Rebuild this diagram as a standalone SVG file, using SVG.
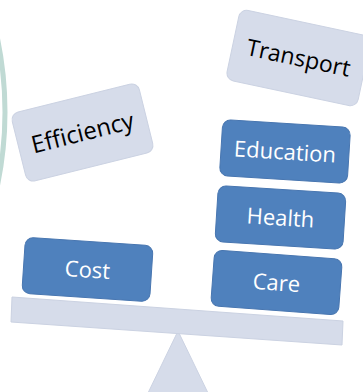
<svg xmlns="http://www.w3.org/2000/svg" width="363" height="392" viewBox="0 0 363 392">
<style>
.blue{fill:#4f81bd;stroke:#4876b0;stroke-width:1}
.light{fill:#d6dcea;stroke:#cbd2e2;stroke-width:1}
.tw{font-family:"Open Sans","Liberation Sans",sans-serif;font-size:22px;fill:#ffffff;text-anchor:middle}
.tb{font-family:"Open Sans","Liberation Sans",sans-serif;font-size:22px;fill:#000000;text-anchor:middle}
</style>
<rect width="363" height="392" fill="#ffffff"/>
<circle cx="-355" cy="112" r="360" fill="none" stroke="#c0dad4" stroke-width="5"/>
<g id="fulcrum">
<polygon points="178,331 148,393 208,393" fill="#d6dcea" stroke="#cbd2e2" stroke-width="1"/>
</g>
<g id="plank">
<polygon points="12,297 343,321 342,345 11,322" fill="#d6dcea" stroke="#cbd2e2" stroke-width="1"/>
</g>
<g id="connectors"></g>
<g id="efficiency" transform="translate(82.5,132.5) rotate(-14)">
<rect class="light" x="-65.5" y="-35.5" width="131" height="71" rx="8"/>
<text class="tb" x="0" y="8.5" style="font-size:24px">Efficiency</text>
</g>
<g id="transport" transform="translate(298.5,58) rotate(12)">
<rect class="light" x="-67" y="-36" width="134" height="72" rx="8"/>
<text class="tb" x="0" y="8" style="font-size:23px">Transport</text>
</g>
<g id="education" transform="translate(285,151.5) rotate(3.6)">
<rect class="blue" x="-64" y="-28" width="128" height="56" rx="8"/>
<text class="tw" x="0" y="8">Education</text>
</g>
<g id="health" transform="translate(280.5,217.5) rotate(3.6)">
<rect class="blue" x="-64" y="-28" width="128" height="56" rx="8"/>
<text class="tw" x="0" y="8">Health</text>
</g>
<g id="care" transform="translate(276.5,282.5) rotate(4.2)">
<rect class="blue" x="-64" y="-28" width="128" height="56" rx="8"/>
<text class="tw" x="0" y="8">Care</text>
</g>
<g id="cost" transform="translate(87.5,269.5) rotate(3.8)">
<rect class="blue" x="-64" y="-28" width="128" height="56" rx="8"/>
<text class="tw" x="0" y="8">Cost</text>
</g>
</svg>
